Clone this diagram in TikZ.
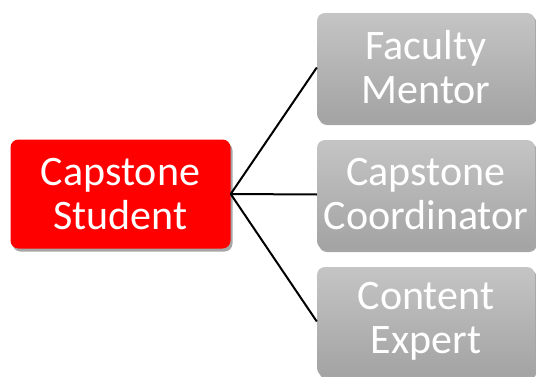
\documentclass[tikz,border=0pt]{standalone}
\usepackage{fontspec}
\setmainfont{Carlito}
\usetikzlibrary{shadows}
\begin{document}
\begin{tikzpicture}[x=1pt,y=1pt,
  boxbase/.style={rounded corners=8pt, minimum width=220pt, minimum height=109pt,
    inner sep=0pt, align=center, text=white,
    font=\fontsize{42}{44}\selectfont,
    drop shadow={shadow xshift=2pt, shadow yshift=-3pt, opacity=0.35, fill=black}},
  studentbox/.style={boxbase, fill=red},
  rolebox/.style={boxbase, minimum width=218pt, top color=black!23, bottom color=black!36, draw=none},
  link/.style={draw=black, line width=2pt}]
\useasboundingbox (0,0) rectangle (536,376);
\node[studentbox] (s) at (120.5,182) {Capstone\\Student};
\node[rolebox] (f) at (426,308.5) {Faculty\\Mentor};
\node[rolebox] (c) at (426,181.5) {Capstone\\Coordinator};
\node[rolebox] (e) at (426,54.5) {Content\\Expert};
\draw[link] (s.east) -- (f.west);
\draw[link] (s.east) -- (c.west);
\draw[link] (s.east) -- (e.west);
\end{tikzpicture}
\end{document}
